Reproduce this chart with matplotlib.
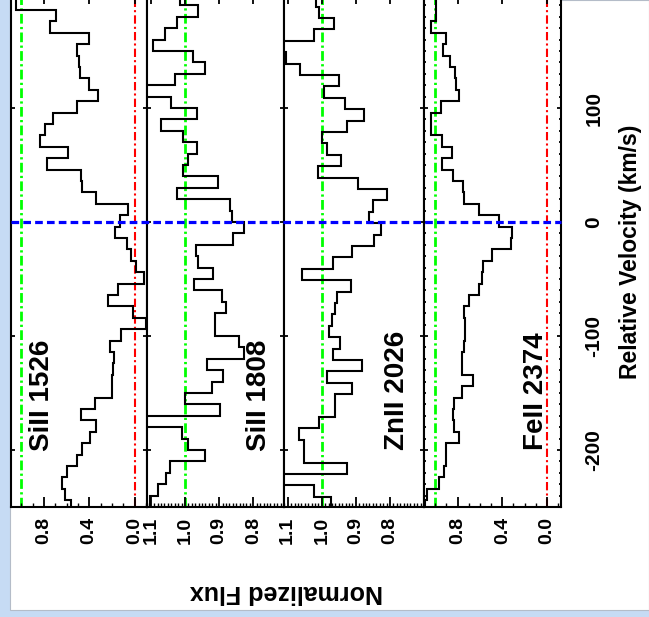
import numpy as np
import matplotlib
matplotlib.use("Agg")
import matplotlib.pyplot as plt
import matplotlib.transforms as mtransforms
from matplotlib.lines import Line2D
from matplotlib.patches import Rectangle
from matplotlib.ticker import FixedLocator, MultipleLocator, NullLocator, FormatStrFormatter

plt.rcParams['font.family'] = ['Liberation Sans', 'DejaVu Sans']
plt.rcParams['font.weight'] = 'bold'
plt.rcParams['axes.unicode_minus'] = False

# spectra binned in 10 km/s pixels, listed from the highest velocity down
bin_width = 10.0

si1526_vtop = 206
si1526_flux = [1.05, 1.05, 0.69, 0.75, 0.40, 0.51, 0.49, 0.48, 0.40, 0.32,
               0.51, 0.72, 0.79, 0.83, 0.59, 0.77, 0.475, 0.46, 0.34, 0.06,
               0.13, 0.175, 0.07, 0.03, -0.016, -0.084, 0.145, 0.23, 0.01, -0.10,
               0.12, 0.22, 0.18, 0.19, 0.195, 0.195, 0.345, 0.475, 0.34, 0.395,
               0.46, 0.51, 0.60, 0.64, 0.61, 0.56]

si1808_vtop = 200
si1808_flux = [1.015, 0.961, 1.022, 1.059, 1.093, 0.976, 0.941, 1.029, 1.115, 1.041,
               0.964, 1.07, 1.007, 0.966, 0.99, 1.007, 0.902, 1.024, 0.868, 0.863,
               0.827, 0.858, 0.969, 0.961, 0.917, 0.974, 0.892, 0.88, 0.912, 0.912,
               0.841, 0.827, 0.934, 0.888, 0.922, 1.0, 0.897, 1.115, 1.008, 0.99,
               0.941, 1.044, 1.054, 1.078, 1.103]

zn2026_vtop = 199
zn2026_flux = [1.017, 1.008, 0.964, 1.024, 1.115, 1.106, 1.064, 0.951, 0.995, 0.932,
               0.876, 0.925, 1.0, 0.985, 0.943, 1.012, 0.895, 0.81, 0.851, 0.861,
               0.826, 0.846, 0.91, 0.966, 1.057, 0.915, 0.956, 0.961, 0.971, 0.978,
               0.946, 0.966, 0.883, 0.985, 0.912, 0.961, 0.961, 1.008, 1.068, 1.051,
               1.051, 0.927, 1.115, 1.024, 0.973]

fe2374_vtop = 206
fe2374_flux = [0.99, 0.99, 0.99, 1.04, 0.90, 0.93, 0.87, 0.82, 0.81, 0.79,
               0.95, 1.04, 1.04, 0.94, 0.85, 0.94, 0.845, 0.75, 0.74, 0.61,
               0.43, 0.315, 0.32, 0.49, 0.57, 0.585, 0.61, 0.70, 0.74, 0.73,
               0.73, 0.745, 0.76, 0.76, 0.665, 0.76, 0.835, 0.845, 0.83, 0.79,
               0.90, 0.90, 0.92, 0.97, 1.07, 1.09]

line_names = ["SiII 1526", "SiII 1808", "ZnII 2026", "FeII 2374"]
line_vtops = [si1526_vtop, si1808_vtop, zn2026_vtop, fe2374_vtop]
line_fluxes = [si1526_flux, si1808_flux, zn2026_flux, fe2374_flux]

wide_ticks = [0.0, 0.4, 0.8]
narrow_ticks = [0.8, 0.9, 1.0, 1.1]
vel_ticks = [-200, -100, 0, 100]

W, H = 649, 617
fig = plt.figure(figsize=(W / 100, H / 100), dpi=100)
fig.patch.set_facecolor('#c6dbf4')
fig.add_artist(Rectangle((10 / W, 7 / H), 1 - 10 / W, 1 - 7 / H, transform=fig.transFigure,
                         facecolor='white', edgecolor='#b4bcc8', lw=0.8, zorder=-1))

# panel edges in pixels (figure is drawn already turned on its side)
lefts = [11, 147, 284, 424]
rights = [147, 284, 424, 561]
y_bot, y_top = 507, -6
xlims = [(1.09, -0.11), (1.111, 0.710), (1.111, 0.700), (1.10, -0.125)]
label_pos = [(0.82, -152), (0.783, -152), (0.78, -148), (0.10, -148)]

axes = []
for i in range(4):
    ax = fig.add_axes([lefts[i] / W, (H - y_bot) / H, (rights[i] - lefts[i]) / W, (y_bot - y_top) / H])
    axes.append(ax)
    flux = np.array(line_fluxes[i])
    edges = line_vtops[i] - bin_width * np.arange(len(flux) + 1)

    ax.axvline(1.0, color='#00ff00', lw=2.0, ls=(0, (3.5, 1.2, 0.8, 1.2)), zorder=1)
    if i in (0, 3):
        ax.axvline(0.0, color='#ff0000', lw=1.5, ls=(0, (4, 1.5, 1, 1.5)), zorder=1)
    ax.stairs(flux[::-1], edges[::-1], orientation='horizontal', baseline=None,
              color='black', lw=1.5, zorder=2)

    ax.set_xlim(*xlims[i])
    ax.set_ylim(-250, 200)

    if i in (0, 3):
        ax.xaxis.set_major_locator(FixedLocator(wide_ticks))
        ax.xaxis.set_minor_locator(MultipleLocator(0.1))
    else:
        ax.xaxis.set_major_locator(FixedLocator(narrow_ticks))
        ax.xaxis.set_minor_locator(MultipleLocator(0.01))
    ax.xaxis.set_major_formatter(FormatStrFormatter('%.1f'))

    ax.yaxis.set_major_locator(FixedLocator(vel_ticks))
    if i == 3:
        ax.yaxis.set_minor_locator(MultipleLocator(10))
    else:
        ax.yaxis.set_minor_locator(NullLocator())
    ax.yaxis.set_major_formatter(FormatStrFormatter('%d'))

    ax.tick_params(axis='x', which='both', direction='in', top=True, bottom=True,
                   width=1.3, labelsize=14, labelrotation=90, pad=7)
    ax.tick_params(axis='x', which='major', length=7)
    ax.tick_params(axis='x', which='minor', length=3, width=1.0)
    ax.tick_params(axis='y', which='both', direction='in', left=True, right=True,
                   labelleft=False, labelright=(i == 3), labelsize=15,
                   labelrotation=90, pad=17, width=1.3)
    ax.tick_params(axis='y', which='major', length=3)
    ax.tick_params(axis='y', which='minor', length=1.5)
    for t in ax.yaxis.get_major_ticks():
        t.label2.set_verticalalignment('center')

    for sp in ax.spines.values():
        sp.set_linewidth(1.5)

    ax.text(label_pos[i][0], label_pos[i][1], line_names[i], rotation=90,
            ha='center', va='center', fontsize=20, fontweight='bold', zorder=3)

# systemic velocity marker runs across all panels
blend = mtransforms.blended_transform_factory(fig.transFigure, axes[0].transData)
fig.add_artist(Line2D([lefts[0] / W, rights[3] / W], [0, 0], transform=blend,
                      color='#0000ff', lw=2.3, ls=(0, (2.4, 1.3)), zorder=5))

fig.text(286 / W, (H - 592) / H, 'Normalized Flux', rotation=180, ha='center', va='center',
         fontsize=18, fontweight='bold')
fig.text(631 / W, (H - 252) / H, 'Relative Velocity (km/s)', rotation=90, ha='center', va='center',
         fontsize=16.5, fontweight='bold')

fig.savefig('out.png', dpi=100, facecolor=fig.get_facecolor())
